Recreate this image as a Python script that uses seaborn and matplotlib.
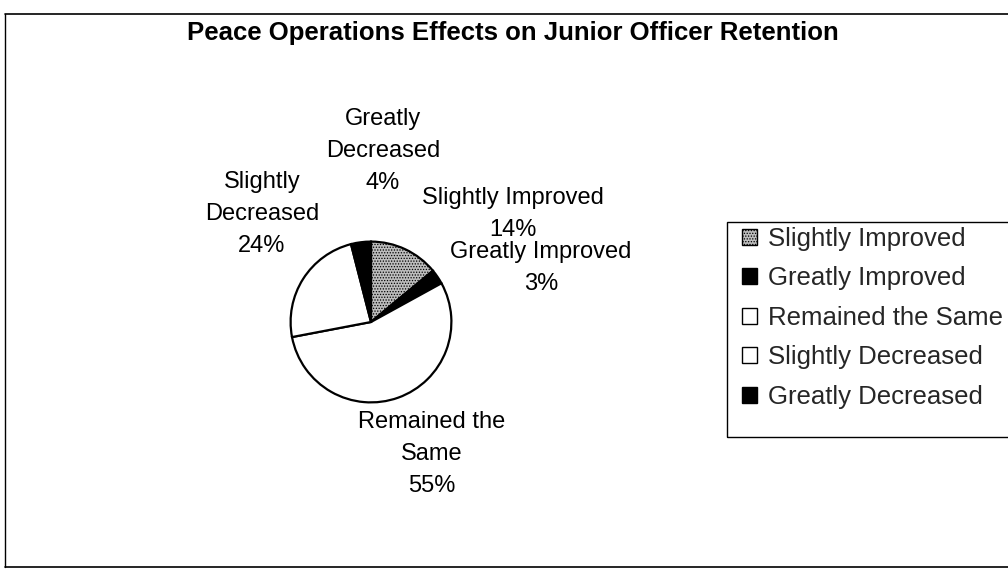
import matplotlib
matplotlib.use("Agg")
import matplotlib.pyplot as plt
import matplotlib.patches as mpatches
import seaborn as sns

categories = ["Slightly Improved", "Greatly Improved", "Remained the Same",
              "Slightly Decreased", "Greatly Decreased"]
percents = [14, 3, 55, 24, 4]
slice_colors = ["#bdbdbd", "black", "white", "white", "black"]
slice_hatch = ["......", None, None, None, None]
pie_labels = ["Slightly Improved\n14%", "Greatly Improved\n3%",
              "Remained the\nSame\n55%", "Slightly\nDecreased\n24%",
              "Greatly\nDecreased\n4%"]
# label centres in figure pixels
label_pos = [(513, 214), (541, 268), (432, 454), (262, 214), (383, 151)]

sns.set_theme(style="white")
plt.rcParams['font.family'] = ['Liberation Sans', 'DejaVu Sans']
plt.rcParams['hatch.color'] = '#555555'
plt.rcParams['hatch.linewidth'] = 0.6

W, H = 1008, 573
fig = plt.figure(figsize=(W / 100, H / 100), dpi=100)

cx, cy, r = 371, 322, 82
ax = fig.add_axes([(cx - r) / W, (H - cy - r) / H, 2 * r / W, 2 * r / H])
wedges, _ = ax.pie(percents, colors=slice_colors, startangle=90, counterclock=False,
                   wedgeprops=dict(edgecolor="black", linewidth=1.6))
for w, h in zip(wedges, slice_hatch):
    if h:
        w.set_hatch(h)
ax.set_xlim(-1.02, 1.02)
ax.set_ylim(-1.02, 1.02)
ax.axis("off")

for txt, (px, py) in zip(pie_labels, label_pos):
    fig.text(px / W, 1 - py / H, txt, ha="center", va="center", fontsize=17,
             linespacing=1.6, color="black")

fig.text(513 / W, 1 - 33 / H, "Peace Operations Effects on Junior Officer Retention",
         ha="center", va="center", fontsize=18.5, fontweight="bold", color="black")

handles = []
for c, h, lab in zip(slice_colors, slice_hatch, categories):
    handles.append(mpatches.Patch(facecolor=c, edgecolor="black", hatch=h, label=lab))
leg = fig.legend(handles=handles, loc="upper left", bbox_to_anchor=(742 / W, 1 - 227 / H),
                 fontsize=18.5, frameon=False, handlelength=0.58,
                 handleheight=0.58, handletextpad=0.45, labelspacing=0.6,
                 borderpad=0, borderaxespad=0)
# legend box drawn separately; it runs past the right edge of the image
fig.add_artist(mpatches.Rectangle((727 / W, 1 - 437 / H), 300 / W, 215 / H,
                                  transform=fig.transFigure, fill=False,
                                  edgecolor="black", linewidth=1.0))

# outer chart border (right edge falls outside the image)
fig.add_artist(plt.Line2D([5 / W, 5 / W], [1 - 14 / H, 1 - 567 / H], color="black", lw=1))
fig.add_artist(plt.Line2D([5 / W, 1], [1 - 14 / H, 1 - 14 / H], color="black", lw=1.2))
fig.add_artist(plt.Line2D([5 / W, 1], [1 - 567 / H, 1 - 567 / H], color="black", lw=1.2))

fig.savefig("out.png", dpi=100)
